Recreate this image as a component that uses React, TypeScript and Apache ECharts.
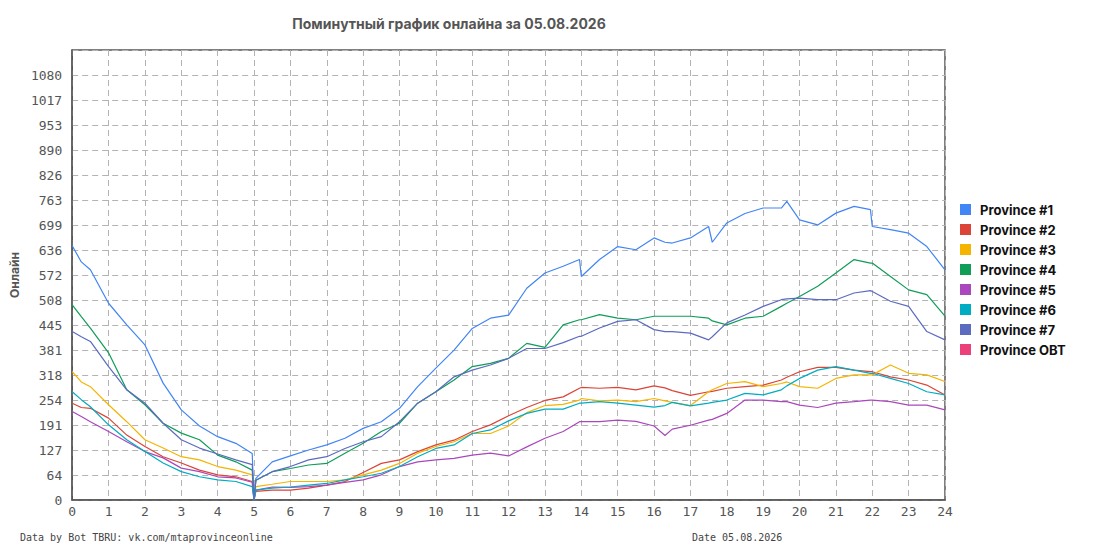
import React, { useEffect, useRef } from "react";
import * as echarts from "echarts";

const titleText = "Поминутный график онлайна за 05.08.2026";
const yAxisName = "Онлайн";
const footerLeft = "Data by Bot TBRU: vk.com/mtaprovinceonline";
const footerRight = "Date 05.08.2026";

const hours = [
  0, 0.25, 0.5, 1, 1.5, 2, 2.5, 3, 3.5, 4, 4.5, 4.95, 5.0, 5.05, 5.5, 6, 6.5, 7, 7.5, 8,
  8.5, 9, 9.5, 10, 10.5, 11, 11.5, 12, 12.5, 13, 13.5, 13.95, 14.0, 14.5, 15, 15.5, 16,
  16.3, 16.5, 17, 17.5, 17.6, 18, 18.5, 19, 19.5, 19.65, 20, 20.5, 21, 21.5, 21.95, 22.0,
  22.5, 23, 23.5, 24,
];

const province1 = [
  646, 605, 585, 500, 445, 394, 297, 229, 188, 161, 144, 118, 0, 55, 97, 112, 127, 140, 157, 182,
  199, 233, 288, 335, 381, 436, 462, 470, 538, 577, 594, 611, 568, 611, 644, 636, 666,
  655, 653, 666, 695, 655, 704, 728, 742, 742, 759, 712, 699, 729, 746, 738, 695,
  687, 678, 644, 585,
];
const province2 = [
  246, 235, 233, 208, 165, 136, 110, 94, 76, 64, 59, 47, 0, 22, 25, 25, 30, 38, 47, 70,
  93, 102, 123, 140, 152, 174, 191, 214, 235, 253, 262, 284, 286, 284, 286, 280, 290,
  285, 278, 266, 275, 276, 284, 288, 292, 305, 312, 326, 337, 337, 330, 326, 326,
  313, 305, 292, 267,
];
const province3 = [
  326, 300, 288, 242, 199, 153, 132, 110, 102, 85, 76, 64, 0, 34, 40, 47, 47, 47, 51, 64,
  76, 93, 119, 136, 148, 169, 169, 188, 222, 240, 243, 254, 258, 252, 254, 250, 258,
  252, 248, 240, 275, 280, 296, 301, 288, 296, 300, 288, 284, 309, 318, 318, 318,
  343, 322, 318, 301,
];
const province4 = [
  496, 466, 437, 374, 280, 242, 195, 170, 153, 114, 97, 76, 0, 50, 72, 80, 89, 93, 119, 144,
  174, 195, 246, 275, 305, 339, 347, 360, 398, 388, 445, 458, 458, 471, 462, 458, 467,
  467, 467, 467, 462, 455, 445, 462, 467, 492, 500, 517, 543, 577, 611, 602, 602,
  568, 534, 522, 467,
];
const province5 = [
  225, 212, 199, 174, 148, 123, 107, 81, 72, 59, 56, 45, 0, 25, 33, 32, 34, 38, 45, 51,
  64, 85, 97, 102, 106, 114, 119, 112, 135, 157, 174, 199, 199, 199, 203, 200, 188,
  164, 180, 190, 203, 205, 220, 254, 254, 250, 250, 241, 235, 246, 250, 254, 254,
  250, 241, 241, 229,
];
const province6 = [
  275, 255, 237, 191, 153, 123, 94, 72, 59, 51, 47, 34, 0, 25, 30, 33, 38, 42, 51, 59,
  68, 85, 110, 131, 140, 169, 178, 201, 220, 231, 231, 246, 246, 250, 246, 241, 236,
  240, 248, 239, 246, 248, 254, 271, 267, 280, 290, 309, 330, 339, 330, 322, 322,
  309, 296, 275, 267,
];
const province7 = [
  428, 415, 403, 339, 280, 246, 195, 153, 132, 117, 102, 90, 0, 50, 72, 85, 102, 110, 131, 148,
  161, 199, 246, 275, 313, 330, 343, 360, 385, 385, 400, 416, 416, 437, 454, 458, 433,
  428, 428, 424, 407, 415, 450, 470, 492, 509, 511, 513, 509, 509, 526, 532, 530,
  505, 492, 428, 407,
];
const provinceOBT: number[] = [];

const seriesNames = [
  "Province #1",
  "Province #2",
  "Province #3",
  "Province #4",
  "Province #5",
  "Province #6",
  "Province #7",
  "Province OBT",
];
const seriesValues = [
  province1,
  province2,
  province3,
  province4,
  province5,
  province6,
  province7,
  provinceOBT,
];
const seriesColors = [
  "#4285F4",
  "#DB4437",
  "#F4B400",
  "#0F9D58",
  "#AB47BC",
  "#00ACC1",
  "#5C6BC0",
  "#EC407A",
];

const yTickLabels = [
  "0", "64", "127", "191", "254", "318", "381", "445", "508", "572", "636", "699",
  "763", "826", "890", "953", "1017", "1080",
];
const xTickLabels = [
  "0", "1", "2", "3", "4", "5", "6", "7", "8", "9", "10", "11", "12", "13", "14", "15",
  "16", "17", "18", "19", "20", "21", "22", "23", "24",
];

const Y_STEP = 1080 / 17;
const Y_MAX = Y_STEP * 18;
const MONO = '"DejaVu Sans Mono", "Liberation Mono", monospace';
const SANS = 'Inter, "Noto Sans", sans-serif';

export default function App() {
  const ref = useRef<HTMLDivElement>(null);

  useEffect(() => {
    document.body.style.margin = "0";
    if (!ref.current) return;
    const chart = echarts.init(ref.current, null, { renderer: "svg" });

    const series = seriesNames.map((name, i) => ({
      name,
      type: "line" as const,
      data: seriesValues[i].map((v, j) => [hours[j], v]),
      showSymbol: false,
      symbol: "none",
      lineStyle: { width: 1.2, color: seriesColors[i] },
      itemStyle: { color: seriesColors[i] },
      emphasis: { disabled: true },
    }));

    const gridLine = {
      show: true,
      lineStyle: { color: "#b3b3b3", width: 1, type: [6, 4] as number[] },
    };

    chart.setOption({
      animation: false,
      backgroundColor: "#ffffff",
      grid: {
        left: 70,
        right: 150,
        top: 50,
        bottom: 50,
        show: true,
        borderColor: "#555555",
        borderWidth: 1.5,
        containLabel: false,
      },
      legend: {
        orient: "vertical",
        left: 960,
        top: 203,
        padding: 0,
        icon: "rect",
        itemWidth: 11,
        itemHeight: 11,
        itemGap: 7,
        data: seriesNames,
        textStyle: {
          fontFamily: SANS,
          fontWeight: "bold",
          fontSize: 13,
          color: "#111111",
          padding: [0, 0, 0, 4],
        },
      },
      xAxis: {
        type: "value",
        min: 0,
        max: 24,
        interval: 1,
        axisLine: { show: true, lineStyle: { color: "#555555", width: 1.5 } },
        axisTick: { show: false },
        splitLine: gridLine,
        axisLabel: {
          margin: 5,
          fontFamily: MONO,
          fontSize: 13,
          color: "#555555",
          formatter: (v: number) => xTickLabels[Math.round(v)] ?? "",
        },
      },
      yAxis: {
        type: "value",
        min: 0,
        max: Y_MAX,
        interval: Y_STEP,
        name: yAxisName,
        nameLocation: "middle",
        nameGap: 48,
        nameTextStyle: {
          fontFamily: SANS,
          fontWeight: "bold",
          fontSize: 12,
          color: "#555555",
        },
        axisLine: { show: true, lineStyle: { color: "#555555", width: 1.5 } },
        axisTick: { show: false },
        splitLine: gridLine,
        axisLabel: {
          margin: 10,
          fontFamily: MONO,
          fontSize: 13,
          color: "#555555",
          showMaxLabel: false,
          formatter: (v: number) => yTickLabels[Math.round(v / Y_STEP)] ?? "",
        },
      },
      graphic: [
        {
          type: "text",
          x: 449,
          y: 23,
          style: {
            text: titleText,
            fontFamily: SANS,
            fontWeight: "bold",
            fontSize: 14,
            fill: "#555555",
            textAlign: "center",
            textVerticalAlign: "middle",
          },
        },
        {
          type: "text",
          x: 20,
          y: 537,
          style: {
            text: footerLeft,
            fontFamily: MONO,
            fontSize: 10,
            fill: "#444444",
            textAlign: "left",
            textVerticalAlign: "middle",
          },
        },
        {
          type: "text",
          x: 692,
          y: 537,
          style: {
            text: footerRight,
            fontFamily: MONO,
            fontSize: 10,
            fill: "#444444",
            textAlign: "left",
            textVerticalAlign: "middle",
          },
        },
      ],
      series,
    });

    return () => chart.dispose();
  }, []);

  return <div ref={ref} style={{ width: 1095, height: 550 }} />;
}
